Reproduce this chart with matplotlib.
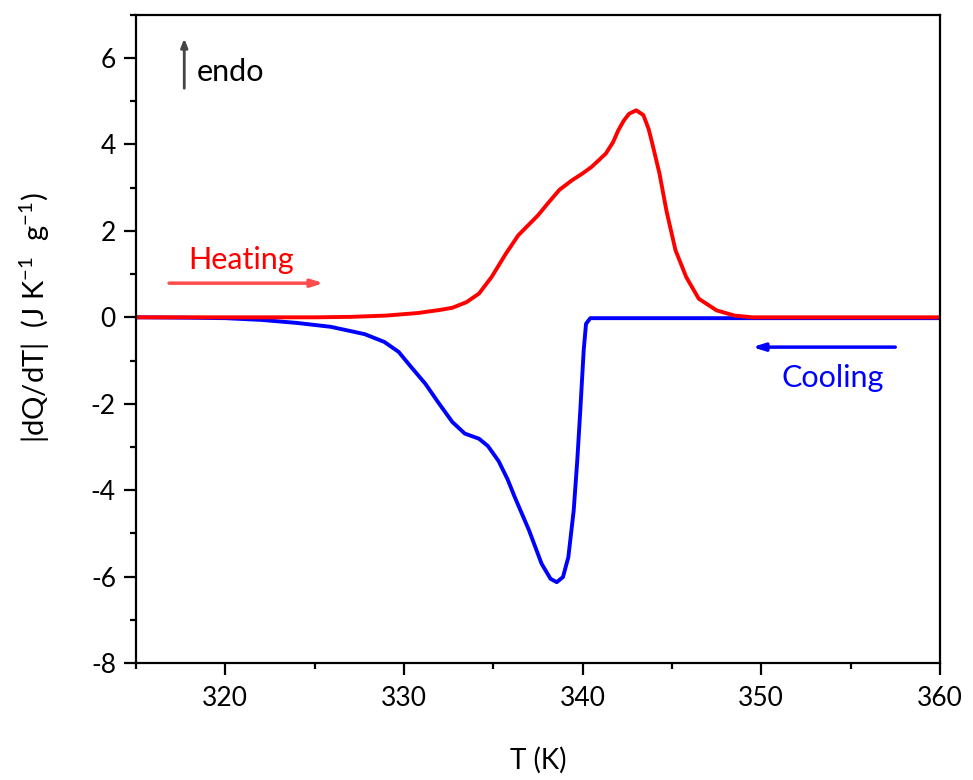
import matplotlib
matplotlib.use("Agg")
import matplotlib.pyplot as plt
from matplotlib.ticker import MultipleLocator

plt.rcParams['font.family'] = ['Lato', 'DejaVu Sans']
plt.rcParams['axes.unicode_minus'] = False
plt.rcParams['mathtext.fontset'] = 'custom'
plt.rcParams['mathtext.rm'] = 'Lato'

# Heating curve (red)
heat_T = [315, 320, 325, 327, 329, 330.8, 332.0, 332.7, 333.5, 334.2, 334.9, 335.7,
          336.4, 337.0, 337.5, 338.1, 338.7, 339.4, 340.0, 340.5, 341.3, 341.7, 342.0,
          342.3, 342.6, 343.0, 343.4, 343.7, 343.9, 344.3, 344.7, 345.2, 345.8, 346.5,
          347.5, 348.5, 349.5, 360]
heat_v = [0, 0, 0.0, 0.01, 0.04, 0.10, 0.17, 0.22, 0.35, 0.55, 0.93, 1.47,
          1.9, 2.15, 2.36, 2.66, 2.95, 3.17, 3.33, 3.48, 3.79, 4.05, 4.33,
          4.55, 4.71, 4.79, 4.68, 4.35, 4.02, 3.33, 2.45, 1.55, 0.93, 0.43,
          0.16, 0.04, 0.0, 0]

# Cooling curve (blue)
cool_T = [315, 318, 320, 322, 324, 325.9, 327.8, 328.9, 329.7, 330.4, 331.2, 331.9,
          332.7, 333.4, 334.2, 334.7, 335.3, 335.8, 336.2, 337.0, 337.7, 338.2,
          338.55, 338.9, 339.2, 339.5, 339.7, 339.87, 340.06, 340.19, 340.43, 360]
cool_v = [0, -0.01, -0.02, -0.06, -0.13, -0.22, -0.39, -0.57, -0.8, -1.15, -1.54, -1.96,
          -2.42, -2.69, -2.81, -2.98, -3.33, -3.75, -4.16, -4.93, -5.7, -6.05,
          -6.13, -6.01, -5.55, -4.47, -3.31, -2.15, -0.76, -0.15, -0.02, -0.02]

fig = plt.figure(figsize=(9.73, 7.8), dpi=100)
ax = fig.add_axes([0.1398, 0.15, 0.8262, 0.831])

ax.plot(cool_T, cool_v, color='#0000FF', lw=2.8, solid_joinstyle='round')
ax.plot(heat_T, heat_v, color='#FF0000', lw=2.8, solid_joinstyle='round')

ax.set_xlim(315, 360)
ax.set_ylim(-8, 7)
ax.xaxis.set_minor_locator(MultipleLocator(5))
ax.yaxis.set_minor_locator(MultipleLocator(1))
ax.set_xticks([320, 330, 340, 350, 360])
ax.set_yticks([-8, -6, -4, -2, 0, 2, 4, 6])

for s in ax.spines.values():
    s.set_linewidth(1.6)
ax.tick_params(which='major', direction='out', length=8.5, width=1.6, labelsize=19,
               top=False, right=False)
ax.tick_params(axis='x', which='major', pad=8)
ax.tick_params(axis='y', which='major', pad=6)
ax.tick_params(which='minor', direction='out', length=4.5, width=1.6,
               top=False, right=False)

ax.set_xlabel('T (K)', fontsize=20, labelpad=26)
ax.set_ylabel(r'|dQ/dT|  (J K$^{\mathregular{-1}}$  g$^{\mathregular{-1}}$)', fontsize=21)
ax.yaxis.set_label_coords(-0.105, 0.532)

# annotations
ax.annotate('', xy=(317.7, 6.45), xytext=(317.7, 5.3),
            arrowprops=dict(arrowstyle='-|>,head_length=0.5,head_width=0.2',
                            color='#444444', lw=2, shrinkA=0, shrinkB=0))
ax.text(318.4, 5.67, 'endo', fontsize=22, ha='left', va='center', color='black')

ax.annotate('', xy=(325.5, 0.79), xytext=(316.85, 0.79),
            arrowprops=dict(arrowstyle='-|>,head_length=0.7,head_width=0.22',
                            color='#FF4D4D', lw=2.5, shrinkA=0, shrinkB=0))
ax.text(320.9, 1.32, 'Heating', fontsize=22, ha='center', va='center', color='#FF0000')

ax.annotate('', xy=(349.5, -0.69), xytext=(357.5, -0.69),
            arrowprops=dict(arrowstyle='-|>,head_length=0.7,head_width=0.22',
                            color='#0000FF', lw=2.5, shrinkA=0, shrinkB=0))
ax.text(354.0, -1.41, 'Cooling', fontsize=22, ha='center', va='center', color='#0000FF')

fig.savefig('out.png', dpi=100)
